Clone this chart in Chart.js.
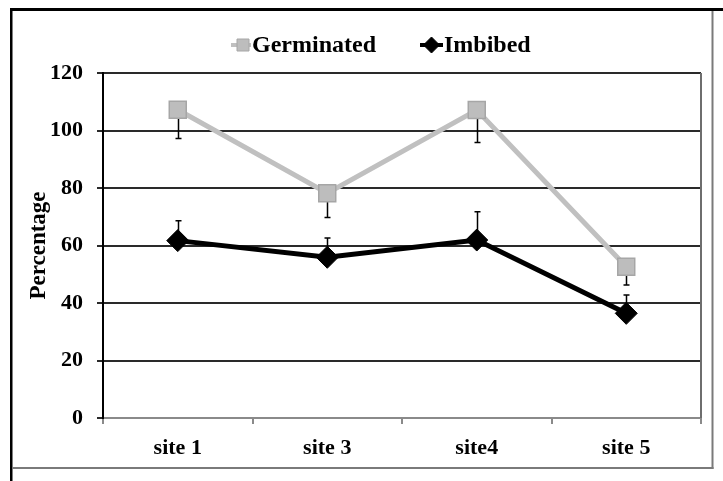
<!DOCTYPE html>
<html>
<head>
<meta charset="utf-8">
<script src="https://cdn.jsdelivr.net/npm/chart.js@4/dist/chart.umd.min.js"></script>
<style>
  html, body { margin: 0; padding: 0; background: #fff; }
  #wrap { width: 723px; height: 481px; }
</style>
</head>
<body>
<div id="wrap"><canvas id="c" width="723" height="481"></canvas></div>
<script>
// Sites and measured percentages (mean with one-sided error)
const categories = ['site 1', 'site 3', 'site4', 'site 5'];
const germinated = [107.2, 78.2, 107.1, 52.6];
const germinatedErr = [10.0, 8.5, 11.3, 6.3];
const imbibed = [61.7, 55.9, 61.9, 36.4];
const imbibedErr = [6.9, 6.7, 9.8, 6.4];
const yTicks = [0, 20, 40, 60, 80, 100, 120];

const SERIF = '"Liberation Serif", "Times New Roman", serif';
const GREY_LINE = '#c0c0c0';
const GREY_FILL = '#bdbdbd';
const GREY_EDGE = '#a6a6a6';

// Outer frame around the figure
const framePlugin = {
  id: 'frame',
  beforeDraw(chart) {
    const ctx = chart.ctx;
    ctx.save();
    ctx.fillStyle = '#fff';
    ctx.fillRect(0, 0, chart.width, chart.height);
    ctx.fillStyle = '#000';
    ctx.fillRect(10, 8, chart.width - 10, 3);
    ctx.fillRect(10, 8, 2.5, chart.height - 8);
    ctx.fillStyle = '#7a7a7a';
    ctx.fillRect(711.5, 11, 2, 458);
    ctx.fillRect(12, 467, 701.5, 2);
    ctx.restore();
  },
  afterDraw(chart) {
    // right edge of the plot area
    const a = chart.chartArea;
    const ctx = chart.ctx;
    ctx.save();
    ctx.strokeStyle = '#6e6e6e';
    ctx.lineWidth = 2;
    ctx.beginPath();
    ctx.moveTo(Math.round(a.right), a.top);
    ctx.lineTo(Math.round(a.right), a.bottom);
    ctx.stroke();
    ctx.restore();
  }
};

// One-sided error bars: Germinated downward, Imbibed upward
const errorBarPlugin = {
  id: 'errorBars',
  beforeDatasetsDraw(chart) {
    const ctx = chart.ctx;
    const x = chart.scales.x, y = chart.scales.y;
    const sets = [
      { vals: germinated, errs: germinatedErr, dir: -1 },
      { vals: imbibed, errs: imbibedErr, dir: 1 }
    ];
    ctx.save();
    ctx.strokeStyle = '#000';
    ctx.lineWidth = 1.5;
    sets.forEach(s => {
      s.vals.forEach((v, i) => {
        const px = Math.round(x.getPixelForValue(i)) + 0.5;
        const y0 = y.getPixelForValue(v);
        const y1 = y.getPixelForValue(v + s.dir * s.errs[i]);
        ctx.beginPath();
        ctx.moveTo(px, y0);
        ctx.lineTo(px, y1);
        ctx.moveTo(px - 3, y1);
        ctx.lineTo(px + 3, y1);
        ctx.stroke();
      });
    });
    ctx.restore();
  }
};

// Legend drawn with line samples and markers
const legendPlugin = {
  id: 'lineLegend',
  afterDraw(chart) {
    const ctx = chart.ctx;
    const cy = 45;
    ctx.save();
    ctx.font = 'bold 24px ' + SERIF;
    ctx.textBaseline = 'middle';
    ctx.fillStyle = '#000';
    const items = [
      { label: chart.data.datasets[0].label, ds: chart.data.datasets[0], x0: 231, x1: 251 },
      { label: chart.data.datasets[1].label, ds: chart.data.datasets[1], x0: 420, x1: 443 }
    ];
    items.forEach((it, k) => {
      ctx.strokeStyle = it.ds.borderColor;
      ctx.lineWidth = 4;
      ctx.beginPath();
      ctx.moveTo(it.x0, cy);
      ctx.lineTo(it.x1, cy);
      ctx.stroke();
      const mx = (it.x0 + it.x1) / 2 + (k === 0 ? 2 : 0);
      ctx.fillStyle = it.ds.pointBackgroundColor;
      ctx.strokeStyle = it.ds.pointBorderColor;
      ctx.lineWidth = 1;
      ctx.beginPath();
      if (k === 0) {
        ctx.rect(mx - 6, cy - 6, 12, 12);
      } else {
        ctx.moveTo(mx - 8, cy);
        ctx.lineTo(mx, cy - 8);
        ctx.lineTo(mx + 8, cy);
        ctx.lineTo(mx, cy + 8);
        ctx.closePath();
      }
      ctx.fill();
      ctx.stroke();
      ctx.fillStyle = '#000';
      ctx.textAlign = 'left';
      ctx.fillText(it.label, it.x1 + 1, cy + 1);
    });
    ctx.restore();
  }
};

new Chart(document.getElementById('c'), {
  type: 'line',
  data: {
    labels: categories,
    datasets: [
      {
        label: 'Germinated',
        data: germinated,
        borderColor: GREY_LINE,
        borderWidth: 5,
        pointStyle: 'rect',
        pointRadius: 12,
        pointBackgroundColor: GREY_FILL,
        pointBorderColor: GREY_EDGE,
        pointBorderWidth: 1.5,
        tension: 0,
        order: 1
      },
      {
        label: 'Imbibed',
        data: imbibed,
        borderColor: '#000',
        borderWidth: 5,
        pointStyle: 'rectRot',
        pointRadius: 11,
        pointBackgroundColor: '#000',
        pointBorderColor: '#000',
        pointBorderWidth: 1,
        tension: 0,
        order: 2
      }
    ]
  },
  options: {
    responsive: false,
    animation: false,
    devicePixelRatio: 1,
    layout: { padding: { left: 0, top: 73, right: 22, bottom: 0 } },
    plugins: {
      legend: { display: false },
      tooltip: { enabled: false }
    },
    scales: {
      x: {
        offset: true,
        afterFit(scale) { scale.height = 63; },
        grid: {
          offset: true,
          drawOnChartArea: false,
          drawTicks: true,
          tickLength: 6,
          color: '#8a8a8a',
          lineWidth: 2
        },
        border: { display: true, color: '#8a8a8a', width: 2 },
        ticks: {
          color: '#000',
          padding: 11,
          font: { family: SERIF, size: 22, weight: 'bold' }
        }
      },
      y: {
        min: 0,
        max: 120,
        afterFit(scale) { scale.width = 103; },
        afterBuildTicks(scale) { scale.ticks = yTicks.map(v => ({ value: v })); },
        grid: {
          color: '#2a2a2a',
          lineWidth: 2,
          tickLength: 6
        },
        border: { display: true, color: '#000', width: 2 },
        ticks: {
          color: '#000',
          padding: 14,
          font: { family: SERIF, size: 22, weight: 'bold' }
        },
        title: {
          display: true,
          text: 'Percentage',
          color: '#000',
          padding: { top: 25, bottom: 0 },
          font: { family: SERIF, size: 23, weight: 'bold' }
        }
      }
    }
  },
  plugins: [framePlugin, errorBarPlugin, legendPlugin]
});
</script>
</body>
</html>
